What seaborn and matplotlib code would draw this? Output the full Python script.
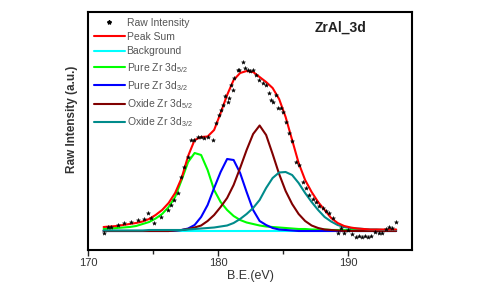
import matplotlib
matplotlib.use('Agg')
import matplotlib.pyplot as plt
import seaborn as sns
from matplotlib.lines import Line2D

sns.set_style('white')
plt.rcParams['font.family'] = ['Liberation Sans', 'DejaVu Sans']
plt.rcParams['mathtext.fontset'] = 'custom'
plt.rcParams['mathtext.rm'] = 'Liberation Sans'

# DADOS (B.E. em eV, intensidade em u.a.)
energia = [171.2, 171.7, 172.2, 172.7, 173.2, 173.7, 174.2, 174.7, 175.2, 175.7,
           176.2, 176.7, 177.2, 177.7, 178.2, 178.7, 179.2, 179.7, 180.2, 180.7,
           181.2, 181.7, 182.2, 182.7, 183.2, 183.7, 184.2, 184.7, 185.2, 185.7,
           186.2, 186.7, 187.2, 187.7, 188.2, 188.7, 189.2, 189.7, 190.2, 190.7,
           191.2, 191.7, 192.2, 192.7, 193.2, 193.7]

soma_picos = [23, 23.5, 24, 25, 26, 27, 28.5, 31, 35, 40,
              47, 57, 72, 94, 110, 113, 113.5, 120, 137, 155,
              170, 177, 179, 178, 173, 168, 162, 151, 133, 110,
              87, 70, 58, 48, 40, 32, 27, 24, 22.5, 21.5,
              21, 20.5, 20.5, 20.5, 20.5, 20.5]

zr_puro_52 = [21, 21.5, 22, 22.5, 23, 24, 26, 28, 31.5, 36,
              43, 53, 70, 88, 97, 95, 80, 60, 48, 40,
              34, 30, 27.5, 26, 24.5, 23.5, 23, 22.5, 22, 21.5,
              21, 21, 20.5, 20.5, 20.5, 20, 20, 20, 20, 20,
              20, 20, 20, 20, 20, 20]

zr_puro_32 = [19, 19, 19, 19, 19, 19, 19, 19, 19, 19,
              19, 19.5, 20, 21.5, 25, 33, 45, 62, 78, 91,
              90, 77, 58, 40, 29, 25, 22, 20.5, 20, 19.5,
              19, 19, 19, 19, 19, 19, 19, 19, 19, 19,
              19, 19, 19, 19, 19, 19]

zr_oxido_52 = [19, 19, 19, 19, 19, 19, 19, 19, 19, 19,
               19, 19.5, 20, 21, 22.5, 24.5, 29, 35, 43, 52,
               65, 82, 100, 116, 124.5, 115, 96, 76, 59, 46,
               36, 29, 24.5, 22, 20.5, 20, 19.5, 19, 19, 19,
               19, 19, 19, 19, 19, 19]

zr_oxido_32 = [19.5, 19.5, 19.5, 19.5, 19.5, 19.5, 19.5, 20, 20, 20,
               20, 20, 20, 20.5, 21, 21.5, 22, 22.5, 23.5, 24.5,
               27, 31, 36, 42, 50, 62, 72, 77.5, 78, 75,
               67, 57, 48, 40, 33, 28.5, 25, 23, 22, 21.5,
               21, 20.5, 20.5, 20, 20, 20]

fundo_x = [171.2, 193.7]
fundo_y = [19, 19]

bruto_x = [171.23, 171.54, 171.77, 172.28, 172.79, 173.31, 173.82, 174.33, 174.59, 174.85,
           175.08, 175.62, 176.13, 176.38, 176.62, 176.9, 177.15, 177.38, 177.67, 177.92,
           178.18, 178.46, 178.69, 178.92, 179.21, 179.59, 179.85, 180.08, 180.23, 180.36,
           180.54, 180.75, 180.85, 181.0, 181.13, 181.25, 181.52, 181.64, 181.9, 182.08,
           182.28, 182.46, 182.67, 182.92, 183.18, 183.44, 183.69, 183.95, 184.08, 184.21,
           184.46, 184.59, 184.85, 184.98, 185.23, 185.48, 185.69, 186.0, 186.23, 186.51,
           186.77, 187.02, 187.31, 187.54, 187.77, 188.05, 188.31, 188.54, 188.85, 189.21,
           189.46, 189.69, 190.0, 190.31, 190.62, 190.85, 191.08, 191.31, 191.54, 191.77,
           192.08, 192.38, 192.62, 192.92, 193.15, 193.38, 193.69]
bruto_y = [17, 23, 23, 25, 26.7, 28.3, 30, 31, 37, 32,
           27, 33, 40, 45, 50, 57, 73, 83, 93, 110,
           110, 113, 113.3, 112, 113.3, 110, 127, 135, 140, 145,
           154, 148.3, 152, 165, 160, 171.7, 180, 180, 187.7, 182,
           180, 179, 180, 175, 170, 166.7, 165, 157, 150, 148.3,
           155, 142, 142, 138.3, 128.3, 116.7, 109, 88.3, 85, 68.3,
           62, 55, 51, 48.3, 44, 42, 39, 37, 32, 16.7,
           22, 17, 20, 16, 12.5, 13.5, 13, 14, 13, 13.5,
           18, 17, 16.5, 21, 23.3, 22, 27.7]

# GRAFICO
fig, ax = plt.subplots(figsize=(4.81, 2.86), dpi=100)
fig.subplots_adjust(left=88/481, right=412/481, bottom=36/286, top=274/286)

sns.lineplot(x=fundo_x, y=fundo_y, ax=ax, color='#00ffff', lw=1.5)
sns.lineplot(x=energia, y=zr_puro_52, ax=ax, color='#00ff00', lw=1.5)
sns.lineplot(x=energia, y=zr_puro_32, ax=ax, color='#0000ff', lw=1.5)
sns.lineplot(x=energia, y=zr_oxido_52, ax=ax, color='#800000', lw=1.5)
sns.lineplot(x=energia, y=zr_oxido_32, ax=ax, color='#008b8b', lw=1.5)
sns.lineplot(x=energia, y=soma_picos, ax=ax, color='#ff0000', lw=1.5)
sns.scatterplot(x=bruto_x, y=bruto_y, ax=ax, color='black', marker='*', s=9,
                edgecolor='black', linewidth=0.3, zorder=5)

ax.set_xlim(170, 194.92)
ax.set_ylim(0, 238)
ax.set_xticks([170, 180, 190])
ax.set_xticks([175, 185], minor=True)
ax.set_yticks([])
ax.tick_params(axis='x', which='major', direction='out', length=4, width=1,
               bottom=True, labelsize=8, labelcolor='#333333', pad=2)
ax.tick_params(axis='x', which='minor', direction='out', length=3, width=1, bottom=True)
for s in ax.spines.values():
    s.set_color('black')
    s.set_linewidth(1.5)

ax.set_xlabel('B.E.(eV)', fontsize=9, color='#333333', labelpad=1)
ax.set_ylabel('Raw Intensity (a.u.)', fontsize=8.5, color='#333333', fontweight='bold')
ax.yaxis.set_label_coords(-0.03, 0.55)
ax.text(0.78, 0.935, 'ZrAl_3d', transform=ax.transAxes, ha='center', va='center',
        fontsize=10, fontweight='bold', color='#222222')

handles = [
    Line2D([], [], ls='none', marker='*', color='black', markersize=3),
    Line2D([], [], color='#ff0000', lw=1.5),
    Line2D([], [], color='#00ffff', lw=1.5),
    Line2D([], [], color='#00ff00', lw=1.5),
    Line2D([], [], color='#0000ff', lw=1.5),
    Line2D([], [], color='#800000', lw=1.5),
    Line2D([], [], color='#008b8b', lw=1.5),
]
labels = ['Raw Intensity', 'Peak Sum', 'Background',
          r'Pure Zr 3d$_{5/2}$', r'Pure Zr 3d$_{3/2}$',
          r'Oxide Zr 3d$_{5/2}$', r'Oxide Zr 3d$_{3/2}$']
leg = ax.legend(handles, labels, loc='upper left', bbox_to_anchor=(0.0, 1.0),
                frameon=False, fontsize=7.5, handlelength=3.0, handletextpad=0.15,
                labelspacing=0.42, borderaxespad=0.45, borderpad=0.1)
for t in leg.get_texts():
    t.set_color('#555555')

plt.savefig('out.png', dpi=100)
